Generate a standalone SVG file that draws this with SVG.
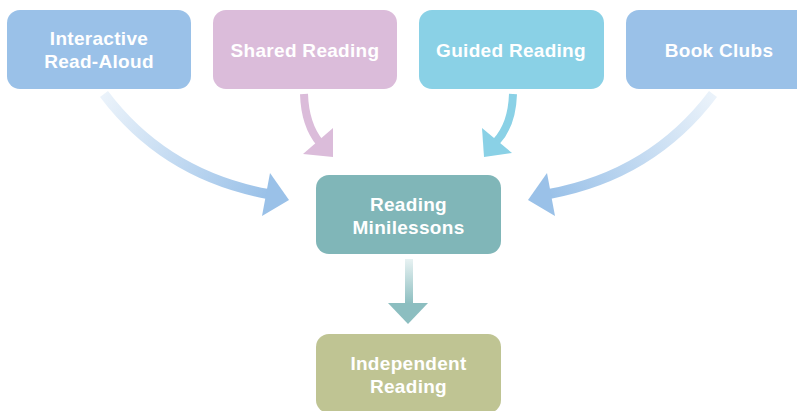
<svg xmlns="http://www.w3.org/2000/svg" width="797" height="411" viewBox="0 0 797 411">
<style>
.box{stroke:none}
.lbl{font-family:"Liberation Sans",Arial,sans-serif;font-weight:bold;font-size:19px;letter-spacing:0.3px;fill:#ffffff;text-anchor:middle}
.shaft{fill:none;stroke-linecap:butt}
</style>
<defs>
<linearGradient id="g1" gradientUnits="userSpaceOnUse" x1="104" y1="94" x2="268" y2="194">
<stop offset="0" stop-color="#9AC1E8" stop-opacity="0.2"/>
<stop offset="1" stop-color="#9AC1E8" stop-opacity="1"/>
</linearGradient>
<linearGradient id="g4" gradientUnits="userSpaceOnUse" x1="713" y1="94" x2="549" y2="194">
<stop offset="0" stop-color="#9AC1E8" stop-opacity="0.2"/>
<stop offset="1" stop-color="#9AC1E8" stop-opacity="1"/>
</linearGradient>
<linearGradient id="g5" gradientUnits="userSpaceOnUse" x1="0" y1="259" x2="0" y2="304">
<stop offset="0" stop-color="#8CBEC0" stop-opacity="0.2"/>
<stop offset="1" stop-color="#8CBEC0" stop-opacity="1"/>
</linearGradient>
</defs>
<g id="connectors">
<path class="shaft" d="M104 94 Q165 175 268 194" stroke="url(#g1)" stroke-width="10"/>
<polygon points="289,200 270,173 262,216" fill="#9AC1E8"/>
<path class="shaft" d="M304 94 Q305 125 320 143" stroke="#DBBCDA" stroke-width="8"/>
<polygon points="333,157 303,154 333,128" fill="#DBBCDA"/>
<path class="shaft" d="M513 94 Q512 125 496 142" stroke="#8AD1E6" stroke-width="8"/>
<polygon points="484,157 482,128 512,153" fill="#8AD1E6"/>
<path class="shaft" d="M713 94 Q652 175 549 194" stroke="url(#g4)" stroke-width="10"/>
<polygon points="528,200 547,173 555,216" fill="#9AC1E8"/>
<rect x="405" y="259" width="8" height="45" fill="url(#g5)"/>
<polygon points="388,303 428,303 408,324" fill="#8CBEC0"/>
</g>
<g id="interactive-read-aloud">
<rect class="box" x="7" y="10" width="184" height="79" rx="13" fill="#9AC1E8"/>
<text class="lbl" x="99" y="45">Interactive</text>
<text class="lbl" x="99" y="68">Read-Aloud</text>
</g>
<g id="shared-reading">
<rect class="box" x="213" y="10" width="184" height="79" rx="13" fill="#DBBCDA"/>
<text class="lbl" x="305" y="57">Shared Reading</text>
</g>
<g id="guided-reading">
<rect class="box" x="419" y="10" width="185" height="79" rx="13" fill="#8AD1E6"/>
<text class="lbl" x="511" y="57">Guided Reading</text>
</g>
<g id="book-clubs">
<rect class="box" x="626" y="10" width="185" height="79" rx="13" fill="#9AC1E8"/>
<text class="lbl" x="719" y="57">Book Clubs</text>
</g>
<g id="reading-minilessons">
<rect class="box" x="316" y="175" width="185" height="79" rx="13" fill="#80B6B8"/>
<text class="lbl" x="408.5" y="211">Reading</text>
<text class="lbl" x="408.5" y="234">Minilessons</text>
</g>
<g id="independent-reading">
<rect class="box" x="316" y="334" width="185" height="79" rx="13" fill="#BFC493"/>
<text class="lbl" x="408.5" y="370">Independent</text>
<text class="lbl" x="408.5" y="393">Reading</text>
</g>
</svg>
